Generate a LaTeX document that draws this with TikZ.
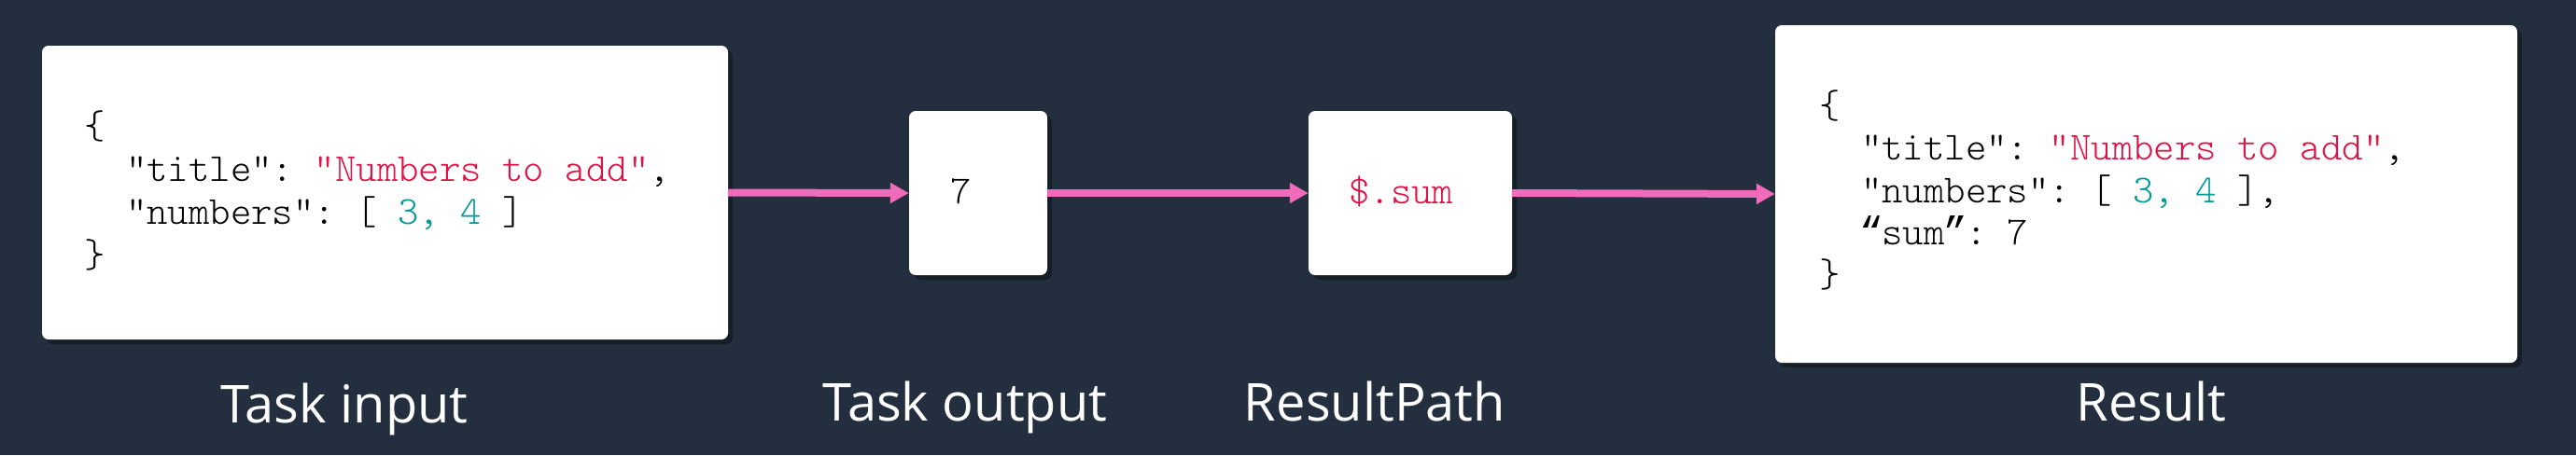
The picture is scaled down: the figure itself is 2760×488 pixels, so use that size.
\documentclass[tikz,border=0pt]{standalone}
\usepackage{fontspec}
\setmainfont{Open Sans}
\setmonofont{Latin Modern Mono Light}
\newfontfamily\qfont{Liberation Mono}
\newcommand{\myoq}{\makebox[0.525em][c]{\qfont “}}
\newcommand{\mycq}{\makebox[0.525em][c]{\qfont ”}}
\usetikzlibrary{arrows.meta,shadows}
\definecolor{bg}{HTML}{232F3E}
\definecolor{pinkarrow}{HTML}{F06BBA}
\definecolor{strred}{HTML}{DD1144}
\definecolor{numteal}{HTML}{009999}
\begin{document}
\begin{tikzpicture}[x=1pt,y=-1pt,
  card/.style={fill=white, rounded corners=7pt, inner sep=0pt,
    drop shadow={shadow xshift=5pt, shadow yshift=-5pt, opacity=0.35, fill=black}},
  code/.style={anchor=base west, inner sep=0pt, text=black,
    font=\ttfamily\fontsize{42.7}{46}\selectfont},
  caption/.style={anchor=base, inner sep=0pt, text=white,
    font=\fontsize{56}{64}\selectfont},
  flow/.style={draw=pinkarrow, line width=8pt,
    -{Triangle[length=20pt,width=21pt,fill=pinkarrow]}}]
\fill[bg] (0,0) rectangle (2760,488);
\useasboundingbox (0,0) rectangle (2760,488);

% cards
\node[card, minimum width=735pt, minimum height=315pt] (in) at (412.5,206.5) {};
\node[card, minimum width=148pt, minimum height=176pt] (out) at (1048,207) {};
\node[card, minimum width=218pt, minimum height=176pt] (rp) at (1511,207) {};
\node[card, minimum width=795pt, minimum height=362pt] (res) at (2299.5,208) {};

% task input code
\node[code] (i1) at (90,148) {\{};
\node[code] (i2) at (90,194) {\hphantom{xx}"title": \textcolor{strred}{"Numbers to add"},};
\node[code] (i3) at (90,240) {\hphantom{xx}"numbers": [ \textcolor{numteal}{3, 4} ]};
\node[code] (i4) at (90,286.5) {\}};

% task output
\node[code, anchor=base] (o1) at (1030,218) {7};

% result path
\node[code, text=strred] (p1) at (1445,218) {\$.sum};

% result code
\node[code] (r1) at (1949,126) {\{};
\node[code] (r2) at (1949,171.5) {\hphantom{xx}"title": \textcolor{strred}{"Numbers to add"},};
\node[code] (r3) at (1949,217) {\hphantom{xx}"numbers": [ \textcolor{numteal}{3, 4} ],};
\node[code] (r4) at (1949,262) {\hphantom{xx}\myoq sum\mycq: 7};
\node[code] (r5) at (1949,307) {\}};

% arrows
\draw[flow] (in.east) -- (out.west);
\draw[flow] (out.east) -- (rp.west);
\draw[flow] (rp.east) -- (res.west);

% captions
\node[caption] (l1) at (369,453) {Task input};
\node[caption] (l2) at (1034,451) {Task output};
\node[caption] (l3) at (1473,451) {ResultPath};
\node[caption] (l4) at (2305,451) {Result};
\end{tikzpicture}
\end{document}
